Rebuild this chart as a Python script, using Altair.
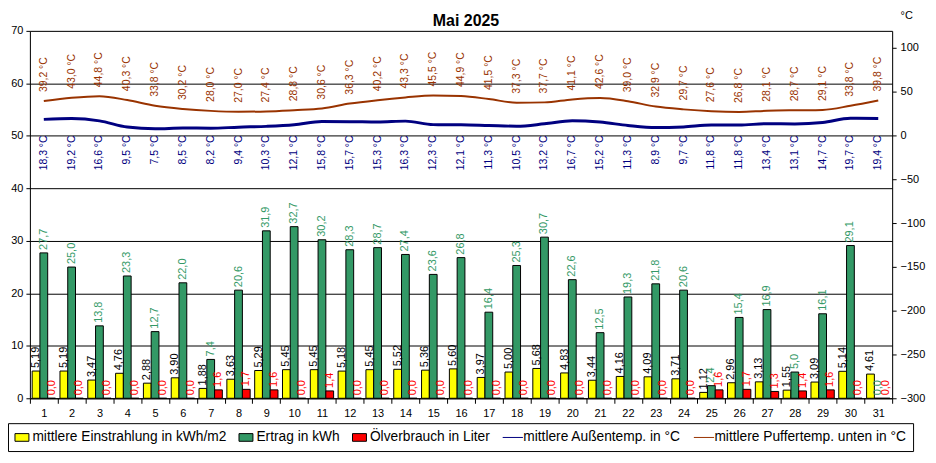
import altair as alt
import pandas as pd

FONT = "Liberation Sans"

title_text = ["Mai 2025"]
days = list(range(1, 32))
einstrahlung = [5.19, 5.19, 3.47, 4.76, 2.88, 3.90, 1.88, 3.63, 5.29, 5.45, 5.45, 5.18, 5.45, 5.52, 5.36, 5.60,
                3.97, 5.00, 5.68, 4.83, 3.44, 4.16, 4.09, 3.71, 1.12, 2.96, 3.13, 1.55, 3.09, 5.14, 4.61]
ertrag = [27.7, 25.0, 13.8, 23.3, 12.7, 22.0, 7.4, 20.6, 31.9, 32.7, 30.2, 28.3, 28.7, 27.4, 23.6, 26.8,
          16.4, 25.3, 30.7, 22.6, 12.5, 19.3, 21.8, 20.6, 2.4, 15.4, 16.9, 5.0, 16.1, 29.1, 0.0]
oel = [0.0, 0.0, 0.0, 0.0, 0.0, 0.0, 1.6, 1.7, 1.6, 0.0, 1.4, 0.0, 0.0, 0.0, 0.0, 0.0,
       0.0, 0.0, 0.0, 0.0, 0.0, 0.0, 0.0, 0.0, 1.6, 1.7, 1.3, 1.4, 1.6, 0.0, 0.0]
aussen = [18.3, 19.2, 16.6, 9.5, 7.5, 8.5, 8.2, 9.4, 10.3, 12.1, 15.8, 15.7, 15.3, 16.3, 12.3, 12.1,
          11.3, 10.5, 13.2, 16.7, 15.2, 11.3, 8.9, 9.7, 11.8, 11.8, 13.4, 13.1, 14.7, 19.7, 19.4]
puffer = [39.2, 43.0, 44.8, 40.3, 33.8, 30.2, 28.0, 27.0, 27.4, 28.8, 30.6, 36.3, 40.2, 43.3, 45.5, 44.9,
          41.5, 37.3, 37.7, 41.1, 42.6, 39.0, 32.9, 29.7, 27.6, 26.8, 28.1, 28.7, 29.1, 33.8, 39.8]

S_E = "mittlere Einstrahlung in kWh/m2"
S_R = "Ertrag in kWh"
S_O = "Ölverbrauch in Liter"
S_A = "mittlere Außentemp. in °C"
S_P = "mittlere Puffertemp. unten in °C"
bar_series = [S_E, S_R, S_O]
all_series = [S_E, S_R, S_O, S_A, S_P]

C_YEL, C_GRN, C_RED, C_BLU, C_BRN = "#FFFF00", "#339966", "#FF0000", "#000080", "#993300"

bar_df = pd.DataFrame({
    "day": days * 3,
    "series": [S_E] * 31 + [S_R] * 31 + [S_O] * 31,
    "value": einstrahlung + ertrag + oel,
})
temp_df = pd.DataFrame({
    "day": days * 2,
    "series": [S_A] * 31 + [S_P] * 31,
    "value": aussen + puffer,
})
legend_df = pd.DataFrame({"series": all_series})

xenc = alt.X("day:O", scale=alt.Scale(domain=days, paddingInner=0, paddingOuter=0),
             axis=alt.Axis(title=None, labelAngle=0, tickBand="extent", labelFontSize=11, labelFont=FONT,
                           labelColor="black", domainColor="black", tickColor="black", tickSize=5,
                           labelPadding=4, grid=False))
xoff = alt.XOffset("series:N", scale=alt.Scale(domain=bar_series, paddingInner=0, paddingOuter=0.29))

yleft = alt.Y("value:Q", scale=alt.Scale(domain=[0, 70], nice=False, zero=True),
              axis=alt.Axis(title=None, values=list(range(0, 71, 10)), grid=True, gridColor="black",
                            gridOpacity=1, gridWidth=1, labelFontSize=11, labelFont=FONT, labelColor="black",
                            domainColor="black", tickColor="black", tickSize=4, labelPadding=3))
RSCALE = alt.Scale(domain=[-300, 119.3], nice=False, zero=False)
raxis = alt.Axis(orient="right", title="°C", titleAngle=0, titleAlign="left", titleBaseline="alphabetic",
                 titleX=8, titleY=-12, titleFontSize=11, titleFont=FONT, titleFontWeight="normal",
                 values=list(range(-300, 101, 50)), grid=False, labelFontSize=11, labelFont=FONT,
                 labelColor="black", domainColor="black", tickColor="black", tickSize=4, labelPadding=4)
yright = alt.Y("value:Q", scale=RSCALE, axis=raxis)

bars = alt.Chart(bar_df).mark_bar(stroke="black", strokeWidth=1).encode(
    x=xenc, xOffset=xoff, y=yleft,
    fill=alt.Fill("series:N", scale=alt.Scale(domain=bar_series, range=[C_YEL, C_GRN, C_RED]), legend=None),
)


def bar_label(series, fmt, color):
    return alt.Chart(bar_df).transform_filter(alt.datum.series == series).transform_calculate(
        label=f"replace(format(datum.value, '{fmt}'), '.', ',')"
    ).mark_text(angle=270, align="left", baseline="middle", dx=3, fontSize=11, font=FONT, color=color).encode(
        x=xenc, xOffset=xoff, y=yleft, text="label:N"
    )


left = alt.layer(bars, bar_label(S_E, ".2f", "black"), bar_label(S_R, ".1f", C_GRN), bar_label(S_O, ".1f", C_RED))


def temp_line(series, color, width):
    return alt.Chart(temp_df).transform_filter(alt.datum.series == series).mark_line(
        interpolate="monotone", color=color, strokeWidth=width).encode(x=xenc, y=yright)


lab_expr = "replace(format(datum.value, '.1f'), '.', ',') + ' °C'"
blue_labels = alt.Chart(temp_df).transform_filter(alt.datum.series == S_A).transform_calculate(
    label=lab_expr).mark_text(angle=270, align="right", baseline="middle", dx=0, fontSize=10.5, font=FONT,
                              color=C_BLU).encode(
    x=xenc, y=alt.YDatum(0, type="quantitative", scale=RSCALE, axis=raxis), text="label:N")
brown_labels = alt.Chart(temp_df).transform_filter(alt.datum.series == S_P).transform_calculate(
    label=lab_expr).mark_text(angle=270, align="left", baseline="middle", dx=9, fontSize=10.5, font=FONT,
                              color=C_BRN).encode(
    x=xenc, y=yright, text="label:N")

right = alt.layer(temp_line(S_P, C_BRN, 2), temp_line(S_A, C_BLU, 3), blue_labels, brown_labels)

RECT = "M-1,-0.55H1V0.55H-1Z"
LINE = "M-1.45,0H1.45"
leg = alt.Legend(title=None, orient="none", legendX=-22, legendY=394, direction="horizontal", columns=5,
                 strokeColor="black", padding=6.5, symbolSize=196, labelFontSize=13.8, labelFont=FONT,
                 labelColor="black", columnPadding=10, labelOffset=3, symbolOpacity=1, labelLimit=0,
                 rowPadding=0)
legend_layer = alt.Chart(legend_df).transform_filter("false").mark_point(opacity=1).encode(
    fill=alt.Fill("series:N", scale=alt.Scale(domain=all_series,
                                              range=[C_YEL, C_GRN, C_RED, "transparent", "transparent"]),
                  legend=leg),
    stroke=alt.Stroke("series:N", scale=alt.Scale(domain=all_series,
                                                  range=["black", "black", "black", C_BLU, C_BRN]), legend=leg),
    shape=alt.Shape("series:N", scale=alt.Scale(domain=all_series, range=[RECT, RECT, RECT, LINE, LINE]),
                    legend=leg),
    strokeWidth=alt.StrokeWidth("series:N", scale=alt.Scale(domain=all_series, range=[1, 1, 1, 3, 2]),
                                legend=leg),
)

title_layer = alt.Chart(pd.DataFrame({"t": title_text})).mark_text(
    fontSize=16, fontWeight="bold", font=FONT, color="black", align="center", baseline="alphabetic"
).encode(text="t:N", x=alt.value(438), y=alt.value(-5))

chart = alt.layer(left, right, legend_layer, title_layer).resolve_scale(
    y="independent", fill="independent", stroke="independent", shape="independent",
    strokeWidth="independent"
).properties(
    width=866, height=369,
    padding={"left": 22, "top": 22, "right": 36, "bottom": 56},
    autosize=alt.AutoSizeParams(type="none"),
).configure_view(fill="#C0C0C0", stroke="#808080", strokeWidth=1).configure(background="white")

chart.save("out.html", embed_options={"renderer": "svg", "actions": False})
